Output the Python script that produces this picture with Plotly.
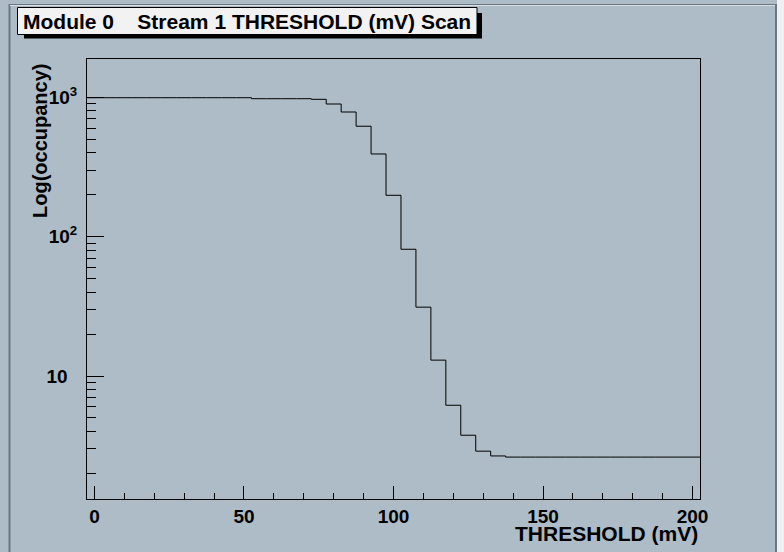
import plotly.graph_objects as go

# ---- data ----
thresholds = [5 * i for i in range(41)]  # bin centres (mV)
occupancy = [993] * 11 + [977] * 4 + [967] + \
    [895, 784, 620, 392, 198, 81.2, 31.2, 13.0, 6.17, 3.76, 2.89, 2.67] + [2.62] * 13
bin_width = 5
x_ticks = [0, 50, 100, 150, 200]
x_minor = [v for v in range(10, 200, 10) if v % 50 != 0]
y_ticks = [10, 100, 1000]
y_ticktext = ["10\u2002", "10<sup>2</sup>", "10<sup>3</sup>"]
y_minor = [m * d for d in (1, 10, 100) for m in range(2, 10)]

title_text = "Module 0\u00a0\u00a0\u00a0\u00a0Stream 1 THRESHOLD (mV) Scan"
xtitle = "THRESHOLD (mV)"
ytitle = "Log(occupancy)"

# ---- layout geometry (pixels) ----
W, H = 784, 552
L, R, T, B = 87, 700, 59, 499
BG = "#adbcc6"
FONT = "Liberation Sans, Arial, Helvetica, sans-serif"

def px(x):
    return (x - L) / (R - L)

def py(y):
    return (B - y) / (B - T)

# histogram edges
edges_x = [c - bin_width / 2 for c in thresholds] + [thresholds[-1] + bin_width / 2]
edges_y = occupancy + [occupancy[-1]]

fig = go.Figure()
fig.add_trace(go.Scatter(x=edges_x, y=edges_y, mode="lines",
                         line=dict(color="black", width=1, shape="hv"),
                         hoverinfo="skip", showlegend=False))

axis_font = dict(family=FONT, size=19, color="black", weight="bold")

fig.update_xaxes(range=[-2.5, 202.5], showgrid=False, zeroline=False,
                 showline=True, linecolor="black", linewidth=1, mirror=True,
                 ticks="inside", ticklen=13, tickwidth=1, tickcolor="black",
                 tickmode="array", tickvals=x_ticks, ticktext=[str(v) for v in x_ticks],
                 tickfont=axis_font, ticklabelstandoff=0,
                 minor=dict(ticks="inside", ticklen=6, tickwidth=1, tickcolor="black",
                            tickmode="array", tickvals=x_minor, showgrid=False))
fig.update_yaxes(type="log", range=[0.1176, 3.2747], showgrid=False, zeroline=False,
                 showline=True, linecolor="black", linewidth=1, mirror=True,
                 ticks="inside", ticklen=17, tickwidth=1, tickcolor="black",
                 tickmode="array", tickvals=y_ticks, ticktext=y_ticktext,
                 tickfont=axis_font, ticklabelstandoff=5,
                 minor=dict(ticks="inside", ticklen=9, tickwidth=1, tickcolor="black",
                            tickmode="array", tickvals=y_minor, showgrid=False))

shapes = [
    # canvas bevel borders
    dict(type="line", xref="paper", yref="paper", x0=px(9.5), x1=px(9.5), y0=py(4), y1=py(W),
         line=dict(color="#6b7780", width=2), layer="below"),
    dict(type="line", xref="paper", yref="paper", x0=px(9), x1=px(776), y0=py(4.5), y1=py(4.5),
         line=dict(color="#6b7780", width=1), layer="below"),
    dict(type="line", xref="paper", yref="paper", x0=px(10), x1=px(776), y0=py(5.5), y1=py(5.5),
         line=dict(color="#d8dee2", width=1), layer="below"),
    dict(type="rect", xref="paper", yref="paper", x0=px(775), x1=px(777), y0=py(4), y1=py(H + 5),
         fillcolor="#6b7780", line=dict(width=0), layer="below"),
    dict(type="rect", xref="paper", yref="paper", x0=px(777), x1=px(W + 2), y0=py(-2), y1=py(H + 5),
         fillcolor="#f0f0f0", line=dict(width=0), layer="below"),
    # title box shadow + box
    dict(type="rect", xref="paper", yref="paper", x0=px(24), x1=px(482), y0=py(13), y1=py(38.5),
         fillcolor="black", line=dict(width=0)),
    dict(type="rect", xref="paper", yref="paper", x0=px(17.5), x1=px(477), y0=py(7.5), y1=py(34.5),
         fillcolor="#f2f2f2", line=dict(color="black", width=1)),
]

annotations = [
    dict(text=title_text, xref="paper", yref="paper", x=px(247), y=py(21.5),
         xanchor="center", yanchor="middle", showarrow=False,
         font=dict(family=FONT, size=21, color="black", weight="bold")),
    dict(text=ytitle, xref="paper", yref="paper", x=px(40), y=py(141),
         xanchor="center", yanchor="middle", showarrow=False, textangle=-90,
         font=dict(family=FONT, size=20, color="black", weight="bold")),
    dict(text=xtitle, xref="paper", yref="paper", x=px(700), y=py(533),
         xanchor="right", yanchor="middle", showarrow=False,
         font=dict(family=FONT, size=21, color="black", weight="bold")),
]

fig.update_layout(width=W, height=H, autosize=False,
                  margin=dict(l=L, r=W - R, t=T, b=H - B, pad=0),
                  paper_bgcolor=BG, plot_bgcolor=BG,
                  shapes=shapes, annotations=annotations, showlegend=False)

fig.write_html("out.html", config={"displayModeBar": False, "staticPlot": True},
               post_script="document.body.style.margin='0';document.body.style.overflow='hidden';document.body.style.background='" + BG + "';")
